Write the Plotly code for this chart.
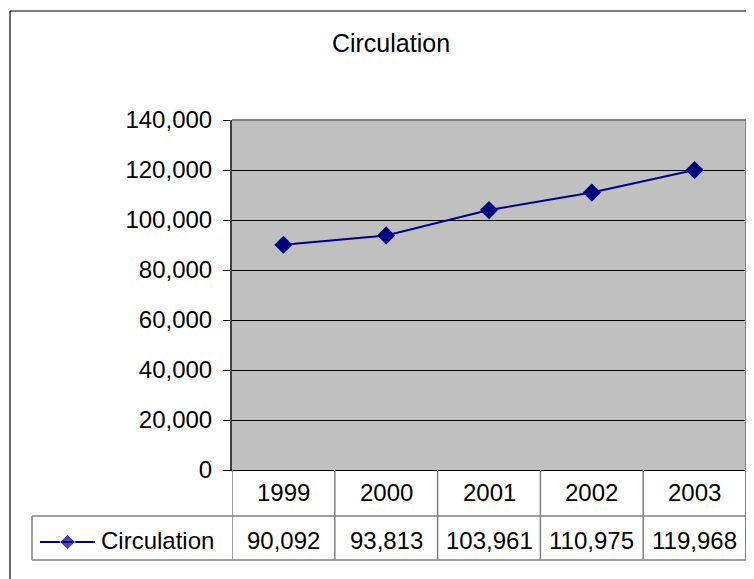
import plotly.graph_objects as go

years = ["1999", "2000", "2001", "2002", "2003"]
circulation = [90092, 93813, 103961, 110975, 119968]
series_name = "Circulation"
title_text = "Circulation"

# page body has an 8px default margin; size the figure so it fits the window
OFF = 8
W, H = 754 - OFF, 579 - OFF
FONT = "Liberation Sans, Arial, sans-serif"
NAVY = "#000080"
GRID = "#808080"
PLOT_BG = "#C0C0C0"

def px(x):
    return (x - OFF) / W

def py(y):
    return 1 - (y - OFF) / H

plot_l, plot_r, plot_t, plot_b = 232, 746, 120, 470
row1_b, row2_b, leg_l = 516, 560, 32

fig = go.Figure()
fig.add_trace(go.Scatter(
    x=years, y=circulation, mode="lines+markers", name=series_name,
    line=dict(color=NAVY, width=2),
    marker=dict(symbol="diamond", size=14, color=NAVY),
    showlegend=False, xaxis="x", yaxis="y",
))
# legend sample inside data table
fig.add_trace(go.Scatter(
    x=[0, 1, 2], y=[0, 0, 0], mode="lines+markers",
    line=dict(color=NAVY, width=2),
    marker=dict(symbol="diamond", size=[0, 12, 0], color=NAVY),
    showlegend=False, xaxis="x2", yaxis="y2", hoverinfo="skip",
))

fig.update_layout(
    width=W, height=H, autosize=False,
    margin=dict(l=0, r=0, t=0, b=0, pad=0, autoexpand=False),
    paper_bgcolor="white",
    plot_bgcolor="rgba(0,0,0,0)",
    font=dict(family=FONT, size=24, color="black"),
    title=dict(text=title_text, x=px(391), y=py(43), xanchor="center", yanchor="middle",
               xref="paper", yref="paper", font=dict(family=FONT, size=25, color="black")),
    xaxis=dict(domain=[px(plot_l), px(plot_r)], type="category", range=[-0.5, 4.5],
               showticklabels=False, showgrid=False, zeroline=False, automargin=False,
               showline=True, linecolor="black", linewidth=1, ticks=""),
    yaxis=dict(domain=[py(plot_b), py(plot_t)], range=[0, 140000], dtick=20000,
               tickformat=",", showgrid=True, gridcolor="black", gridwidth=1,
               zeroline=False, showline=True, linecolor="#404040", linewidth=2,
               automargin=False,
               ticks="outside", ticklen=7, tickcolor="black", tickwidth=1,
               ticklabelstandoff=6, tickfont=dict(family=FONT, size=24, color="black")),
    xaxis2=dict(domain=[px(40), px(95)], range=[0, 2], visible=False, fixedrange=True,
                anchor="y2", automargin=False),
    yaxis2=dict(domain=[py(552), py(532)], range=[-1, 1], visible=False, fixedrange=True,
                anchor="x2", automargin=False),
    showlegend=False,
)

shapes = []
# gray plot area background (below gridlines)
shapes.append(dict(type="rect", xref="paper", yref="paper", x0=px(plot_l), x1=px(plot_r),
                   y0=py(plot_b), y1=py(plot_t), fillcolor=PLOT_BG, line=dict(width=0),
                   layer="below"))
line_style = dict(color=GRID, width=1.5)
# plot area border (top / right gray)
shapes.append(dict(type="line", xref="paper", yref="paper", x0=px(plot_l), x1=px(plot_r),
                   y0=py(plot_t), y1=py(plot_t), line=dict(color=GRID, width=2)))
shapes.append(dict(type="line", xref="paper", yref="paper", x0=px(plot_r), x1=px(plot_r),
                   y0=py(row2_b), y1=py(plot_t), line=dict(color=GRID, width=2)))
# data table vertical separators at category boundaries
for i in range(len(years)):
    shapes.append(dict(type="line", xref="x", yref="paper", x0=i - 0.5, x1=i - 0.5,
                       y0=py(row2_b), y1=py(plot_b), line=line_style))
# horizontal table lines
shapes.append(dict(type="line", xref="paper", yref="paper", x0=px(leg_l), x1=px(plot_r),
                   y0=py(row1_b), y1=py(row1_b), line=line_style))
shapes.append(dict(type="line", xref="paper", yref="paper", x0=px(leg_l), x1=px(plot_r),
                   y0=py(row2_b), y1=py(row2_b), line=line_style))
# legend cell left edge
shapes.append(dict(type="line", xref="paper", yref="paper", x0=px(leg_l), x1=px(leg_l),
                   y0=py(row2_b), y1=py(row1_b), line=line_style))
# outer chart border (left and top visible)
shapes.append(dict(type="line", xref="paper", yref="paper", x0=px(10), x1=px(10),
                   y0=0, y1=py(11), line=dict(color="black", width=1.2)))
shapes.append(dict(type="line", xref="paper", yref="paper", x0=px(10), x1=1,
                   y0=py(11), y1=py(11), line=dict(color="black", width=1.2)))
fig.update_layout(shapes=shapes)

annotations = []
for i, (yr, val) in enumerate(zip(years, circulation)):
    annotations.append(dict(x=i, xref="x", y=py(492), yref="paper", text=yr,
                            showarrow=False, xanchor="center", yanchor="middle",
                            font=dict(family=FONT, size=24, color="black")))
    annotations.append(dict(x=i, xref="x", y=py(540), yref="paper", text=f"{val:,}",
                            showarrow=False, xanchor="center", yanchor="middle",
                            font=dict(family=FONT, size=24, color="black")))
annotations.append(dict(x=px(99), xref="paper", y=py(540), yref="paper", text=series_name,
                        showarrow=False, xanchor="left", yanchor="middle",
                        font=dict(family=FONT, size=24, color="black")))
fig.update_layout(annotations=annotations)

fig.write_html("out.html")
